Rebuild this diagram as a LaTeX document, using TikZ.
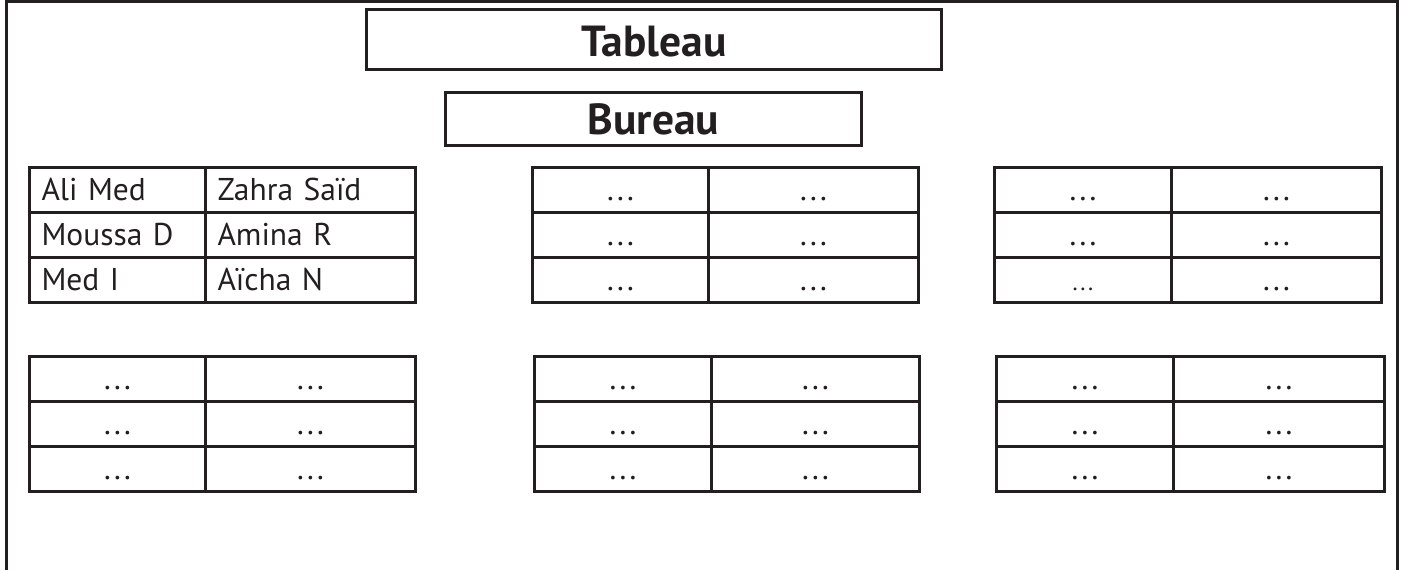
\documentclass[tikz,border=0pt]{standalone}
\usepackage{fontspec}
\setmainfont{PT Sans}
\definecolor{ink}{RGB}{35,31,32}
\newcommand{\mydots}{.\kern3.2bp.\kern3.2bp.}
\newcommand{\mysmalldots}{{\fontsize{24bp}{28bp}\selectfont.\kern2.6bp.\kern2.6bp.}}
\begin{document}
\begin{tikzpicture}[x=1bp,y=-1bp,
  frame/.style={draw=ink,line width=3bp},
  titlebox/.style={draw=ink,line width=3bp,inner xsep=0pt,inner ysep=0pt,anchor=north west,
    font=\fontsize{43.5bp}{50bp}\selectfont\bfseries,text=ink},
  cell/.style={draw=ink,line width=3bp,inner ysep=0pt,inner xsep=0pt,anchor=north west,
    text height=33bp,text depth=12bp,minimum height=45bp,
    font=\fontsize{31.5bp}{36bp}\selectfont,text=ink},
  namecell/.style={cell,inner xsep=12bp,align=left,text width={(#1-24)*1bp}}
]
\useasboundingbox (0,0) rectangle (1401,570);
% outer frame (open at the bottom)
\coordinate (fbl) at (6.5,570);
\coordinate (ftl) at (6.5,1.5);
\coordinate (ftr) at (1397.5,1.5);
\coordinate (fbr) at (1397.5,570);
\draw[frame] (fbl) -- (ftl) -- (ftr) -- (fbr);
% titles
\node[titlebox,minimum width=575bp,minimum height=60bp,text height=47bp,text depth=13bp] (tableau) at (365,8) {Tableau};
\node[titlebox,minimum width=416bp,minimum height=53bp,text height=42bp,text depth=11bp] (bureau) at (444,91) {Bureau};
% table 1 with names
\node[namecell=176] (t1a1) at (28,166) {Ali Med};
\node[namecell=210] (t1b1) at (204,166) {Zahra Saïd};
\node[namecell=176] (t1a2) at (28,211) {Moussa D};
\node[namecell=210] (t1b2) at (204,211) {Amina R};
\node[namecell=176] (t1a3) at (28,256) {Med I};
\node[namecell=210] (t1b3) at (204,256) {Aïcha N};
% other tables with ellipses
\foreach \n/\xa/\xb/\xc/\yy in {t2/531/707/917/166,
    b1/28/204/414/355, b2/533/710/918/355, b3/995/1172/1383/355}{
  \foreach \r in {1,2,3}{
    \node[cell,minimum width={(\xb-\xa)*1bp}] (\n a\r) at (\xa,{\yy+(\r-1)*45}) {\mydots};
    \node[cell,minimum width={(\xc-\xb)*1bp}] (\n b\r) at (\xb,{\yy+(\r-1)*45}) {\mydots};
  }
}
% top-right table: its third row, left cell, has a smaller ellipsis
\foreach \r/\ca in {1/\mydots, 2/\mydots, 3/\mysmalldots}{
  \node[cell,minimum width=177bp] (t3a\r) at (993,{166+(\r-1)*45}) {\ca};
  \node[cell,minimum width=210bp] (t3b\r) at (1170,{166+(\r-1)*45}) {\mydots};
}
\end{tikzpicture}
\end{document}
